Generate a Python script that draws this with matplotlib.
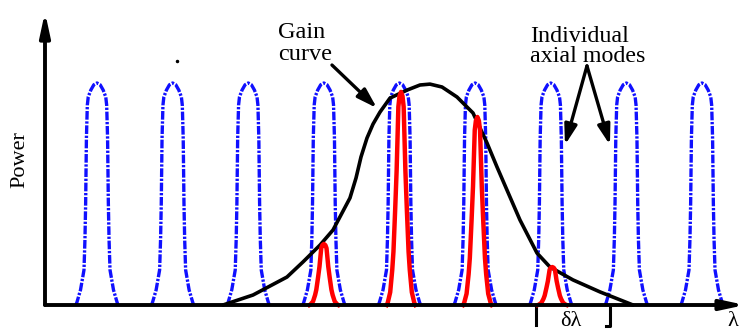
import numpy as np
import matplotlib.pyplot as plt

plt.rcParams['font.family'] = ['Liberation Serif', 'DejaVu Serif']

# cavity mode positions (units of mode spacing) and relative power
mode_pos = [1, 2, 3, 4, 5, 6, 7, 8, 9]
mode_height = [1.0] * 9

# modes that actually lase under the gain curve
lasing_pos = [4.0, 5.02, 6.03, 7.02]
lasing_height = [0.275, 0.96, 0.847, 0.171]

# half-width of one cavity mode line at a given fraction of its peak
mode_frac = [0.0, 0.014, 0.068, 0.158, 0.30, 0.46, 0.75, 0.90, 0.937, 0.968, 0.992, 1.0]
mode_half = [0.278, 0.264, 0.218, 0.172, 0.159, 0.150, 0.140, 0.128, 0.116, 0.082, 0.042, 0.0]

# same for the narrower lasing lines
las_frac = [0.0, 0.01, 0.06, 0.164, 0.25, 0.45, 0.63, 0.80, 0.93, 0.98, 1.0]
las_half = [0.190, 0.176, 0.143, 0.116, 0.100, 0.077, 0.058, 0.045, 0.035, 0.020, 0.0]

# gain curve
gain_x = [2.666, 3.063, 3.512, 3.724, 3.949, 4.121, 4.345, 4.425, 4.491, 4.570,
          4.650, 4.742, 4.874, 5.099, 5.271, 5.403, 5.562, 5.760, 5.972, 6.157,
          6.289, 6.421, 6.593, 6.818, 6.990, 7.294, 7.651, 8.088]
gain_y = [0.0, 0.045, 0.126, 0.194, 0.270, 0.338, 0.482, 0.572, 0.667, 0.752,
          0.815, 0.869, 0.932, 0.968, 0.991, 0.995, 0.982, 0.937, 0.865, 0.730,
          0.622, 0.518, 0.383, 0.234, 0.171, 0.113, 0.059, 0.0]


def line_shape(center, height, frac, half):
    frac = np.array(frac)
    half = np.array(half)
    xs = np.concatenate([center - half, center + half[::-1][1:]])
    ys = np.concatenate([frac, frac[::-1][1:]]) * height
    return xs, ys


fig = plt.figure(figsize=(7.4, 3.31), dpi=100)
ax = fig.add_axes([0, 0, 1, 1])
ax.set_xlim(-0.2826, 9.5025)
ax.set_ylim(-0.1171, 1.3739)
ax.axis('off')

for c, h in zip(mode_pos, mode_height):
    xs, ys = line_shape(c, h, mode_frac, mode_half)
    ax.plot(xs, ys, color='#1010ff', lw=2.4, dashes=(2.6, 0.5, 0.7, 0.5), zorder=2)

ax.plot(gain_x, gain_y, color='black', lw=2.6, zorder=3,
        solid_capstyle='round', solid_joinstyle='round')

for c, h in zip(lasing_pos, lasing_height):
    xs, ys = line_shape(c, h, las_frac, las_half)
    ax.plot(xs, ys, color='#ff0000', lw=3.2, zorder=4, solid_joinstyle='round')

# axes with arrow heads
ax.annotate('', xy=(0.3124, 1.32), xytext=(0.3124, 0.0),
            arrowprops=dict(arrowstyle='-|>,head_length=1.4,head_width=0.3',
                            mutation_scale=10, lw=2.8, color='black',
                            shrinkA=0, shrinkB=0), zorder=5)
ax.annotate('', xy=(9.57, 0.0), xytext=(0.3124, 0.0),
            arrowprops=dict(arrowstyle='-|>,head_length=1.4,head_width=0.3',
                            mutation_scale=10, lw=2.8, color='black',
                            shrinkA=0, shrinkB=0), annotation_clip=False, zorder=5)

# mode spacing marker
ax.plot([6.805, 6.805], [0.0, -0.09], color='black', lw=2.2)
ax.plot([7.783, 7.783, 7.73], [0.0, -0.095, -0.095], color='black', lw=2.2)
ax.text(7.268, -0.095, 'δλ', fontsize=16, ha='center', va='baseline')
ax.text(9.33, -0.095, 'λ', fontsize=16, ha='left', va='baseline')

ax.text(-0.018, 0.653, 'Power', fontsize=16, rotation=90, ha='center', va='center')

# labels with pointers
ax.text(3.393, 1.203, 'Gain', fontsize=17.5, ha='left', va='baseline')
ax.text(3.393, 1.104, 'curve', fontsize=17.5, ha='left', va='baseline')
ax.text(6.726, 1.185, 'Individual', fontsize=17.3, ha='left', va='baseline')
ax.text(6.726, 1.095, 'axial modes', fontsize=17.3, ha='left', va='baseline')

arrow_kw = dict(arrowstyle='-|>,head_length=0.8,head_width=0.25', mutation_scale=15,
                lw=2.4, color='black', shrinkA=0, shrinkB=0)
ax.annotate('', xy=(4.702, 0.887), xytext=(4.107, 1.081), arrowprops=arrow_kw)
ax.annotate('', xy=(7.188, 0.721), xytext=(7.479, 1.077), arrowprops=arrow_kw)
ax.annotate('', xy=(7.783, 0.721), xytext=(7.479, 1.077), arrowprops=arrow_kw)

ax.plot([2.058], [1.099], marker='o', markersize=1.5, color='black')

fig.savefig('out.png', dpi=100)
